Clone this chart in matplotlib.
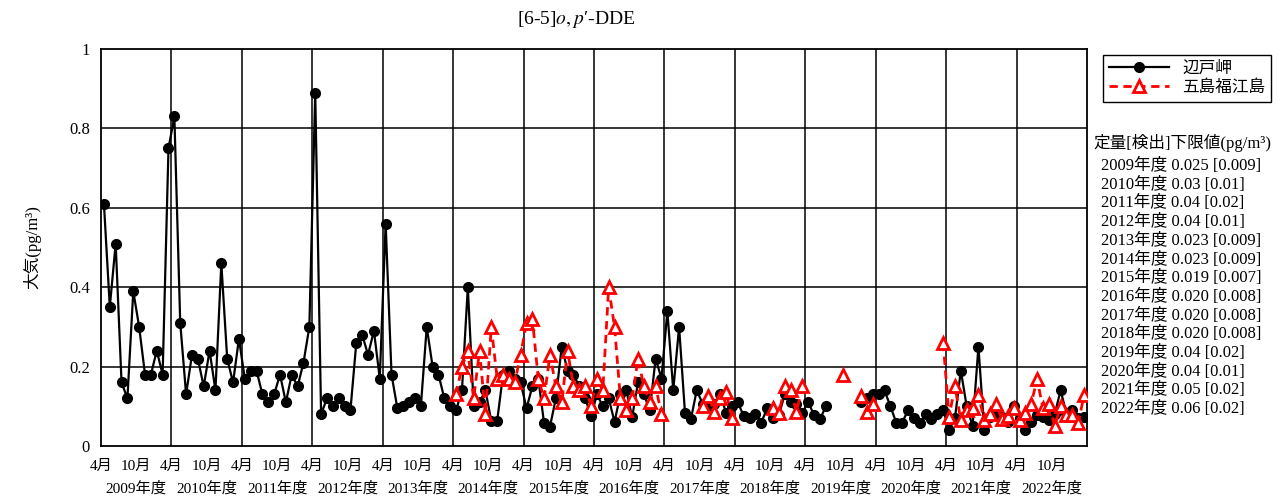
import numpy as np
import matplotlib
matplotlib.use('Agg')
import matplotlib.pyplot as plt

nan = np.nan

# fiscal years (April - March), monthly values, pg/m3
years = list(range(2009, 2023))

hedo_2009 = [0.61, 0.35, 0.51, 0.16, 0.12, 0.39, 0.30, 0.18, 0.18, 0.24, 0.18, 0.75]
hedo_2010 = [0.83, 0.31, 0.13, 0.23, 0.22, 0.15, 0.24, 0.14, 0.46, 0.22, 0.16, 0.27]
hedo_2011 = [0.17, 0.19, 0.19, 0.13, 0.11, 0.13, 0.18, 0.11, 0.18, 0.15, 0.21, 0.30]
hedo_2012 = [0.89, 0.08, 0.12, 0.10, 0.12, 0.10, 0.09, 0.26, 0.28, 0.23, 0.29, 0.17]
hedo_2013 = [0.56, 0.18, 0.095, 0.10, 0.11, 0.12, 0.10, 0.30, 0.20, 0.18, 0.12, 0.10]
hedo_2014 = [0.09, 0.14, 0.40, 0.10, 0.11, 0.14, 0.063, 0.063, 0.18, 0.19, 0.17, 0.16]
hedo_2015 = [0.095, 0.15, 0.17, 0.057, 0.049, 0.12, 0.25, 0.19, 0.18, 0.15, 0.12, 0.075]
hedo_2016 = [0.13, 0.10, 0.12, 0.061, 0.13, 0.14, 0.073, 0.16, 0.13, 0.09, 0.22, 0.17]
hedo_2017 = [0.34, 0.14, 0.30, 0.084, 0.067, 0.14, 0.107, 0.10, 0.107, 0.13, 0.084, 0.10]
hedo_2018 = [0.11, 0.076, 0.07, 0.08, 0.059, 0.095, 0.07, 0.078, 0.13, 0.11, 0.107, 0.084]
hedo_2019 = [0.11, 0.078, 0.067, 0.10, nan, nan, nan, nan, nan, 0.11, 0.12, 0.13]
hedo_2020 = [0.13, 0.14, 0.10, 0.059, 0.059, 0.09, 0.07, 0.057, 0.08, 0.067, 0.08, 0.09]
hedo_2021 = [0.04, 0.07, 0.19, 0.10, 0.05, 0.25, 0.04, 0.074, 0.08, 0.074, 0.061, 0.10]
hedo_2022 = [0.07, 0.04, 0.061, 0.078, 0.074, 0.065, 0.08, 0.14, 0.082, 0.09, 0.07, 0.072]

fukue_2009_2013 = [nan] * 60
fukue_2014 = [0.13, 0.20, 0.24, 0.12, 0.24, 0.08, 0.30, 0.17, 0.18, 0.17, 0.16, 0.23]
fukue_2015 = [0.31, 0.32, 0.17, 0.12, 0.23, 0.15, 0.11, 0.24, 0.15, 0.14, 0.15, 0.10]
fukue_2016 = [0.17, 0.14, 0.40, 0.30, 0.12, 0.09, 0.12, 0.22, 0.15, 0.11, 0.15, 0.08]
fukue_2017 = [nan, nan, nan, nan, nan, nan, 0.10, 0.125, 0.086, 0.12, 0.137, 0.07]
fukue_2018 = [nan, nan, nan, nan, nan, nan, 0.095, 0.082, 0.15, 0.14, 0.086, 0.15]
fukue_2019 = [nan, nan, nan, nan, nan, nan, 0.18, nan, nan, 0.125, 0.085, 0.105]
fukue_2020 = [nan, nan, nan, nan, nan, nan, nan, nan, nan, nan, nan, 0.26]
fukue_2021 = [0.074, 0.15, 0.065, 0.09, 0.095, 0.128, 0.065, 0.08, 0.107, 0.067, 0.075, 0.095]
fukue_2022 = [0.065, 0.082, 0.107, 0.168, 0.095, 0.107, 0.05, 0.10, 0.078, 0.078, 0.057, 0.128]

limits = ['2009年度 0.025 [0.009]', '2010年度 0.03 [0.01]', '2011年度 0.04 [0.02]',
          '2012年度 0.04 [0.01]', '2013年度 0.023 [0.009]', '2014年度 0.023 [0.009]',
          '2015年度 0.019 [0.007]', '2016年度 0.020 [0.008]', '2017年度 0.020 [0.008]',
          '2018年度 0.020 [0.008]', '2019年度 0.04 [0.02]', '2020年度 0.04 [0.01]',
          '2021年度 0.05 [0.02]', '2022年度 0.06 [0.02]']

Hedo = np.array(hedo_2009 + hedo_2010 + hedo_2011 + hedo_2012 + hedo_2013 + hedo_2014 + hedo_2015
                + hedo_2016 + hedo_2017 + hedo_2018 + hedo_2019 + hedo_2020 + hedo_2021 + hedo_2022)
Fukue = np.array(fukue_2009_2013 + fukue_2014 + fukue_2015 + fukue_2016 + fukue_2017 + fukue_2018
                 + fukue_2019 + fukue_2020 + fukue_2021 + fukue_2022)
Month = np.arange(len(Hedo)) + 0.5

JP = ['Liberation Serif', 'Noto Sans CJK JP']
plt.rcParams['font.family'] = JP
plt.rcParams['mathtext.fontset'] = 'stix'

fig = plt.figure(figsize=(12.84, 4.99), dpi=100)
ax = fig.add_axes([101/1284, 1 - 446/499, 986/1284, 397/499])

ax.plot(Month, Hedo, color='black', lw=1.6, marker='o', ms=7, label='辺戸岬', zorder=3)
ax.plot(Month, Fukue, color='red', lw=2.0, ls=(0, (3, 2)), marker='^', ms=8,
        mfc='white', mec='red', mew=2.0, label='五島福江島', zorder=4)

nmon = len(years) * 12
ax.set_xlim(0, nmon)
ax.set_ylim(0, 1)
ax.set_yticks([0, 0.2, 0.4, 0.6, 0.8, 1.0])
ax.set_yticklabels(['0', '0.2', '0.4', '0.6', '0.8', '1'], fontsize=12)
for y in [0.2, 0.4, 0.6, 0.8]:
    ax.axhline(y, color='black', lw=1.1, zorder=1)
for i in range(1, len(years)):
    ax.axvline(i * 12, color='black', lw=1.1, zorder=1)
for s in ax.spines.values():
    s.set_linewidth(1.3)

xt = []
xl = []
for i in range(len(years)):
    xt += [i * 12, i * 12 + 6]
    xl += ['4月', '10月']
ax.set_xticks(xt)
ax.set_xticklabels(xl, fontsize=11)
ax.tick_params(axis='x', length=0, pad=10)
ax.tick_params(axis='y', length=0, pad=8)
for i, yr in enumerate(years):
    ax.text(i * 12 + 6, -0.106, '%d年度' % yr, transform=ax.get_xaxis_transform(),
            ha='center', va='center', fontsize=11)

ax.set_ylabel('大気(pg/m³)', fontsize=12, labelpad=20)
fig.text(576/1284, 1 - 20/499, "[6-5]$o,p$′-DDE", fontsize=14, ha='center', va='center')

ax.legend(loc='upper left', bbox_to_anchor=(1103/1284, 1 - 55/499), bbox_transform=fig.transFigure,
          fancybox=False, edgecolor='black', framealpha=1, fontsize=12, handlelength=3.6,
          handletextpad=0.8, borderaxespad=0, borderpad=0.35, labelspacing=0.2)

fig.text(1093/1284, 1 - 143/499, '定量[検出]下限値(pg/m³)', fontsize=12, va='center', ha='left')
for i, t in enumerate(limits):
    fig.text(1101/1284, 1 - (166 + i * 18.7)/499, t, fontsize=12, va='center', ha='left')

fig.savefig('out.png', dpi=100)
